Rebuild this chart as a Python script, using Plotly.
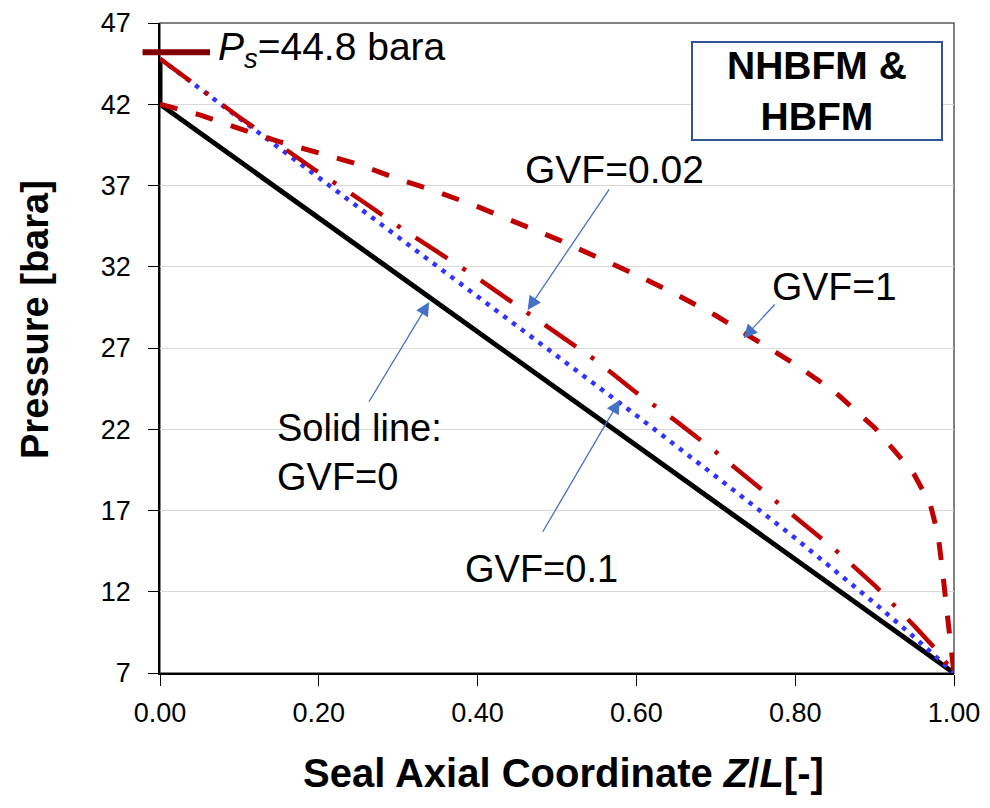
import plotly.graph_objects as go

# ---- data ----
z_gvf0 = [0.0, 0.0, 1.0]
p_gvf0 = [44.8, 42.0, 7.0]

z_gvf01 = [0.0, 0.1, 0.2, 0.3, 0.4, 0.5, 0.6, 0.7, 0.8, 0.9, 0.95, 1.0]
p_gvf01 = [44.8, 41.15, 37.5, 33.8, 30.2, 26.5, 22.85, 19.1, 15.3, 11.3, 9.2, 7.0]

z_gvf002 = [0.0, 0.05, 0.1, 0.15, 0.2, 0.25, 0.3, 0.35, 0.4, 0.45, 0.5, 0.55, 0.6,
            0.65, 0.7, 0.75, 0.8, 0.85, 0.9, 0.95, 0.98, 1.0]
p_gvf002 = [44.8, 43.0, 41.2, 39.5, 37.8, 36.2, 34.5, 32.9, 31.3, 29.6, 27.9, 26.2, 24.25,
            22.5, 20.6, 18.6, 16.6, 14.6, 12.4, 9.9, 8.3, 7.0]

z_gvf1 = [0.0, 0.05, 0.1, 0.15, 0.2, 0.25, 0.3, 0.35, 0.4, 0.45, 0.5, 0.55, 0.6, 0.65,
          0.7, 0.75, 0.8, 0.85, 0.9, 0.93, 0.95, 0.97, 0.98, 0.985, 0.99, 0.995, 1.0]
p_gvf1 = [42.0, 41.35, 40.5, 39.7, 39.0, 38.3, 37.4, 36.6, 35.7, 34.7, 33.7, 32.6, 31.5, 30.3,
          29.0, 27.5, 26.0, 24.3, 22.1, 20.4, 19.2, 17.4, 15.5, 13.5, 11.0, 9.1, 7.0]

ps_value = 44.8
ps_bar_y = 45.2

y_ticks = [7, 12, 17, 22, 27, 32, 37, 42, 47]
x_ticks = [0.0, 0.2, 0.4, 0.6, 0.8, 1.0]

FONT = "Arial, Liberation Sans, sans-serif"
ARROW = "#4472C4"

fig = go.Figure()
fig.add_trace(go.Scatter(x=z_gvf0, y=p_gvf0, mode="lines",
                         line=dict(color="#000000", width=5), name="GVF=0"))
fig.add_trace(go.Scatter(x=z_gvf01, y=p_gvf01, mode="lines",
                         line=dict(color="#3333FF", width=4.5, dash="4.5px,6.5px"), name="GVF=0.1"))
fig.add_trace(go.Scatter(x=z_gvf002, y=p_gvf002, mode="lines",
                         line=dict(color="#C00000", width=4.5, dash="38px,18px,4px,18px"),
                         name="GVF=0.02"))
fig.add_trace(go.Scatter(x=z_gvf1, y=p_gvf1, mode="lines",
                         line=dict(color="#C00000", width=5, dash="18px,19px"), name="GVF=1"))

shapes = [
    # plot frame (gray top/right)
    dict(type="rect", xref="paper", yref="paper", x0=0, x1=1, y0=0, y1=1,
         line=dict(color="#595959", width=1.5), layer="below"),
    # supply pressure bar
    dict(type="line", xref="paper", yref="y", x0=-0.022, x1=0.063,
         y0=ps_bar_y, y1=ps_bar_y, line=dict(color="#7F0000", width=6)),
    # model box
    dict(type="rect", xref="paper", yref="paper",
         x0=(692 - 160) / 794, x1=(942 - 160) / 794,
         y0=(673 - 140) / 650, y1=(673 - 42) / 650,
         line=dict(color="#2F5597", width=2), fillcolor="white", layer="above"),
]

ann = []
def text_ann(x, y, t, xanchor="center", size=38, align="center", xref="x", yref="y"):
    ann.append(dict(x=x, y=y, xref=xref, yref=yref, text=t, showarrow=False,
                    xanchor=xanchor, yanchor="middle", align=align,
                    font=dict(family=FONT, size=size, color="#000000")))

def arrow_ann(x_tail, y_tail, x_head, y_head):
    ann.append(dict(x=x_head, y=y_head, ax=x_tail, ay=y_tail, xref="x", yref="y",
                    axref="x", ayref="y", text="", showarrow=True,
                    arrowhead=2, arrowsize=2.1, arrowwidth=1.3, arrowcolor=ARROW))

text_ann(0.0705, 45.4, "<i>P</i><sub><i>s</i></sub>=%.1f bara" % ps_value, xanchor="left", size=39)
text_ann(0.573, 38.0, "GVF=0.02", size=39)
text_ann(0.849, 30.8, "GVF=1", size=39)
text_ann(0.145, 20.6, "Solid line:<br>GVF=0", xanchor="left", align="left", size=38)
text_ann(0.480, 13.4, "GVF=0.1", size=38)
text_ann((817 - 160) / 794, (673 - 91) / 650, "<b>NHBFM &amp;<br>HBFM</b>", size=39,
         xref="paper", yref="paper")

arrow_ann(0.567, 36.85, 0.463, 29.34)
arrow_ann(0.776, 29.77, 0.735, 27.6)
arrow_ann(0.262, 23.6, 0.339, 29.83)
arrow_ann(0.481, 15.6, 0.579, 23.8)

# axis titles
ann.append(dict(x=(563 - 160) / 794, y=(673 - 773) / 650, xref="paper", yref="paper",
                text="<b>Seal Axial Coordinate <i>Z</i>/<i>L</i>[-]</b>", showarrow=False,
                xanchor="center", yanchor="middle",
                font=dict(family=FONT, size=40, color="#000000")))
ann.append(dict(x=(35 - 160) / 794, y=(673 - 320) / 650, xref="paper", yref="paper",
                text="<b>Pressure [bara]</b>", showarrow=False, textangle=-90,
                xanchor="center", yanchor="middle",
                font=dict(family=FONT, size=38, color="#000000")))

fig.update_layout(
    width=990, height=808,
    margin=dict(l=160, r=36, t=23, b=135, autoexpand=False),
    paper_bgcolor="white", plot_bgcolor="white",
    showlegend=False,
    shapes=shapes, annotations=ann,
    font=dict(family=FONT, color="#000000"),
)
fig.update_xaxes(range=[0, 1], tickvals=x_ticks, tickformat=".2f",
                 showgrid=False, zeroline=False, automargin=False,
                 showline=True, linecolor="#000000", linewidth=1.5,
                 ticks="outside", ticklen=11, tickcolor="#000000", tickwidth=1.2,
                 ticklabelstandoff=4,
                 tickfont=dict(family=FONT, size=27, color="#000000"))
fig.update_yaxes(range=[7, 47], tickvals=y_ticks,
                 showgrid=True, gridcolor="#D9D9D9", gridwidth=1, zeroline=False, automargin=False,
                 showline=True, linecolor="#000000", linewidth=1.5,
                 ticks="outside", ticklen=10, tickcolor="#000000", tickwidth=1.2,
                 ticklabelstandoff=12,
                 tickfont=dict(family=FONT, size=27, color="#000000"))

fig.write_html("out.html")
